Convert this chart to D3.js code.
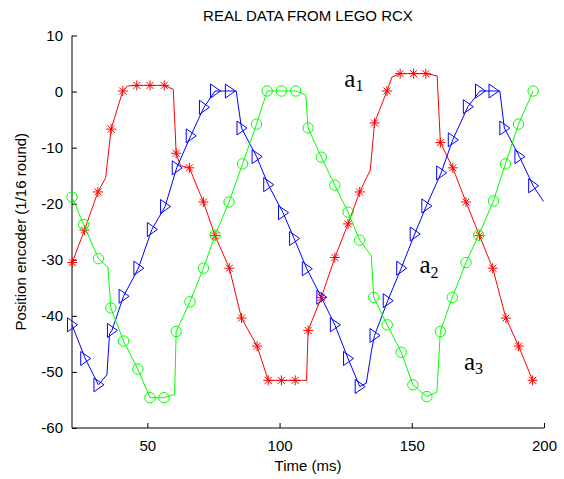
<!DOCTYPE html>
<html>
<head>
<meta charset="utf-8">
<script src="https://cdn.jsdelivr.net/npm/d3@7"></script>
<style>
  body { margin: 0; background: #fff; }
  svg { display: block; }
  .axis text { font-family: Arial, 'Liberation Sans', sans-serif; font-size: 15px; fill: #000; }
  .axis path, .axis line { stroke: #000; }
</style>
</head>
<body>
<div id="chart"></div>
<script>
// marker samples (time in ms, position in 1/16 round)
const redT = [21.6, 26.2, 31.3, 36.3, 40.7, 46.0, 51.0, 56.4, 60.9, 65.9, 71.2, 75.6, 81.0, 85.6, 91.5, 95.7, 100.7, 105.9, 110.8, 115.8, 120.9, 125.9, 130.3, 135.9, 140.6, 145.6, 150.7, 155.3, 160.8, 165.5, 170.5, 175.6, 180.6, 185.6, 190.4, 195.7]
const redV = [-30.5, -24.7, -17.9, -6.7, 0.1, 1.1, 1.1, 1.1, -11.0, -13.6, -19.7, -25.7, -31.5, -40.4, -45.4, -51.5, -51.5, -51.5, -42.6, -36.7, -29.6, -23.6, -17.9, -5.6, 0.1, 3.2, 3.2, 3.2, -9.1, -13.6, -19.7, -25.7, -31.5, -40.4, -45.4, -51.5]

const blueT = [21.5, 26.5, 31.5, 36.6, 41.0, 46.6, 51.7, 56.7, 61.1, 66.4, 71.4, 75.6, 81.2, 85.6, 91.3, 95.7, 101.3, 105.5, 110.3, 115.8, 120.9, 125.9, 130.3, 135.9, 140.9, 146.0, 151.1, 155.5, 161.1, 165.5, 171.2, 175.8, 180.9, 185.0, 190.7, 195.9]
const blueV = [-41.6, -47.6, -52.3, -42.6, -36.5, -31.5, -24.6, -20.5, -13.6, -7.9, -2.8, 0.1, 0.1, -6.5, -11.6, -16.6, -21.6, -26.2, -31.6, -36.7, -41.6, -47.6, -52.6, -43.5, -37.3, -31.5, -25.4, -20.4, -14.5, -8.6, -2.7, 0.1, 0.1, -6.5, -11.6, -16.8]

const greenT = [21.5, 25.9, 31.5, 36.2, 41.0, 46.4, 51.0, 56.3, 60.9, 66.1, 71.2, 75.6, 80.9, 86.0, 91.3, 95.3, 100.7, 106.1, 110.8, 115.8, 120.9, 125.9, 130.3, 135.6, 140.7, 146.0, 150.4, 155.7, 160.8, 165.3, 170.5, 175.3, 180.9, 185.4, 190.4, 195.9]
const greenV = [-18.8, -23.7, -29.8, -38.6, -44.5, -49.5, -54.6, -54.6, -42.8, -37.5, -31.5, -25.6, -19.7, -12.9, -5.8, 0.1, 0.1, 0.1, -6.5, -11.7, -16.7, -21.5, -26.5, -36.7, -41.6, -46.5, -52.3, -54.4, -42.8, -36.7, -30.5, -25.6, -19.5, -12.9, -5.8, 0.1]

// extra samples between markers (corners of the trace)
const redExtraT = [34.2, 42.5, 59.8, 62.5, 110.2, 134.3, 142.5, 159.6]
const redExtraV = [-15.4, 1.0, 0.4, -13.2, -51.5, -14.0, 2.6, 2.8]
const blueExtraT = [34.7, 35.7, 83.6, 132.8, 134.7, 183.3, 199.8]
const blueExtraV = [-50.5, -43.2, 0.1, -52.0, -46.4, 0.1, -19.6]
const greenExtraT = [35.1, 60.3, 109.9, 134.7, 159.5]
const greenExtraV = [-31.3, -54.0, -0.6, -29.3, -53.6]

const xTicks = [50, 100, 150, 200]
const yTicks = [10, 0, -10, -20, -30, -40, -50, -60]
const xDomain = [21.5, 200]
const yDomain = [-60, 10]

const labels = [
  { text: 'a', sub: '1', t: 124.5, v: 0.9 },
  { text: 'a', sub: '2', t: 152.9, v: -32.4 },
  { text: 'a', sub: '3', t: 169.7, v: -49.6 },
]

const width = 564
const height = 479
const margin = { left: 72, right: 20, top: 35.5, bottom: 51 }
const w = width - margin.left - margin.right
const h = height - margin.top - margin.bottom

const toPts = (t, v) => t.map((d, i) => [d, v[i]])
const merge = (a, b) => a.concat(b).sort((p, q) => p[0] - q[0])

const series = [
  { color: '#ff0000', marker: 'star', marks: toPts(redT, redV), line: merge(toPts(redT, redV), toPts(redExtraT, redExtraV)) },
  { color: '#0000ff', marker: 'tri', marks: toPts(blueT, blueV), line: merge(toPts(blueT, blueV), toPts(blueExtraT, blueExtraV)) },
  { color: '#00ff00', marker: 'circle', marks: toPts(greenT, greenV), line: merge(toPts(greenT, greenV), toPts(greenExtraT, greenExtraV)) },
]

const svg = d3
  .select('#chart')
  .append('svg')
  .attr('width', width)
  .attr('height', height)

const g = svg.append('g').attr('transform', `translate(${margin.left},${margin.top})`)

const x = d3.scaleLinear().domain(xDomain).range([0, w])
const y = d3.scaleLinear().domain(yDomain).range([h, 0])

// matlab style: plain hyphen, ticks pointing inwards
const fmt = (d) => String(d)

const xAxis = g
  .append('g')
  .attr('class', 'axis')
  .attr('transform', `translate(0,${h})`)
  .call(d3.axisBottom(x).tickValues(xTicks).tickFormat(fmt).tickSize(-5).tickSizeOuter(0).tickPadding(12))
xAxis.select('.domain').attr('d', `M0,0H${w}`)

const yAxis = g
  .append('g')
  .attr('class', 'axis')
  .call(d3.axisLeft(y).tickValues(yTicks).tickFormat(fmt).tickSize(-5).tickSizeOuter(0).tickPadding(9))
yAxis.select('.domain').attr('d', `M0,0V${h}`)

const line = d3
  .line()
  .x((d) => x(d[0]))
  .y((d) => y(d[1]))

series.forEach((s) => {
  g.append('path')
    .attr('d', line(s.line))
    .attr('fill', 'none')
    .attr('stroke', s.color)
    .attr('stroke-width', 1)

  const m = g
    .append('g')
    .attr('fill', 'none')
    .attr('stroke', s.color)
    .attr('stroke-width', 1)
    .selectAll('g')
    .data(s.marks)
    .enter()
    .append('g')
    .attr('transform', (d) => `translate(${x(d[0])},${y(d[1])})`)

  if (s.marker === 'star') {
    m.append('path').attr('d', 'M-5,0H5M0,-5V5M-3.5,-3.5L3.5,3.5M-3.5,3.5L3.5,-3.5')
  } else if (s.marker === 'tri') {
    m.append('path').attr('d', 'M-4.5,-7L5.5,0L-4.5,7Z')
  } else {
    m.append('circle').attr('r', 5.2)
  }
})

// curve labels
const lab = g
  .append('g')
  .selectAll('text')
  .data(labels)
  .enter()
  .append('text')
  .attr('x', (d) => x(d.t))
  .attr('y', (d) => y(d.v))
  .style('font-family', "'Times New Roman', 'Liberation Serif', serif")
  .style('font-size', '25px')
lab.append('tspan').text((d) => d.text)
lab
  .append('tspan')
  .attr('dy', 4.5)
  .style('font-size', '16px')
  .text((d) => d.sub)

svg
  .append('text')
  .attr('x', margin.left + w / 2)
  .attr('y', 21)
  .attr('text-anchor', 'middle')
  .style('font-family', "Arial, 'Liberation Sans', sans-serif")
  .style('font-size', '15px')
  .text('REAL DATA FROM LEGO RCX')

svg
  .append('text')
  .attr('x', margin.left + w / 2)
  .attr('y', 471)
  .attr('text-anchor', 'middle')
  .style('font-family', "Arial, 'Liberation Sans', sans-serif")
  .style('font-size', '15px')
  .text('Time (ms)')

svg
  .append('text')
  .attr('transform', `translate(26,${margin.top + h / 2}) rotate(-90)`)
  .attr('text-anchor', 'middle')
  .style('font-family', "Arial, 'Liberation Sans', sans-serif")
  .style('font-size', '15px')
  .text('Position encoder (1/16 round)')
</script>
</body>
</html>
